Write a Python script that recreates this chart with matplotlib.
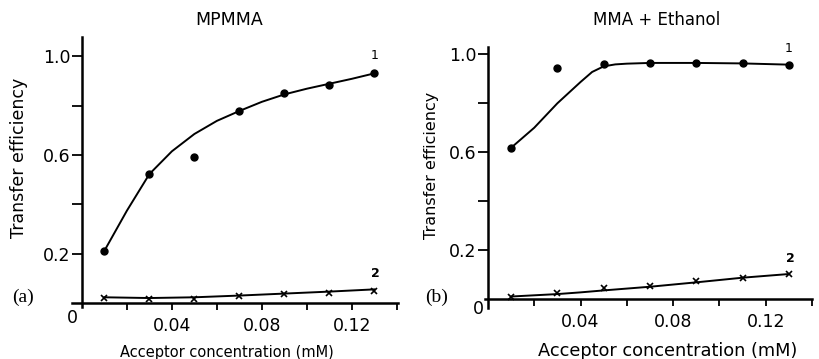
import matplotlib
matplotlib.use('Agg')
import matplotlib.pyplot as plt

# acceptor concentrations (mM)
conc = [0.01, 0.03, 0.05, 0.07, 0.09, 0.11, 0.13]

# (a) MPMMA
a_curve1 = [0.213, 0.523, 0.592, 0.778, 0.850, 0.883, 0.930]
a_curve2 = [0.021, 0.020, 0.020, 0.030, 0.037, 0.044, 0.050]
# drawn fit lines
a_fit1_x = [0.01, 0.02, 0.03, 0.04, 0.05, 0.06, 0.07, 0.08, 0.09, 0.10, 0.11, 0.12, 0.13]
a_fit1_y = [0.213, 0.375, 0.523, 0.615, 0.685, 0.738, 0.778, 0.815, 0.845, 0.868, 0.888, 0.908, 0.930]
a_fit2_x = [0.01, 0.03, 0.05, 0.07, 0.09, 0.11, 0.13]
a_fit2_y = [0.025, 0.022, 0.025, 0.032, 0.040, 0.048, 0.057]

# (b) MMA + Ethanol
b_curve1 = [0.618, 0.946, 0.962, 0.965, 0.965, 0.965, 0.958]
b_curve2 = [0.007, 0.023, 0.044, 0.053, 0.075, 0.087, 0.102]
b_fit1_x = [0.01, 0.02, 0.03, 0.04, 0.045, 0.05, 0.055, 0.06, 0.07, 0.09, 0.11, 0.13]
b_fit1_y = [0.618, 0.700, 0.800, 0.887, 0.928, 0.951, 0.959, 0.962, 0.965, 0.965, 0.963, 0.958]
b_fit2_x = [0.01, 0.03, 0.04, 0.05, 0.07, 0.09, 0.11, 0.13]
b_fit2_y = [0.010, 0.020, 0.027, 0.035, 0.050, 0.068, 0.087, 0.102]

yticks = [0.2, 0.4, 0.6, 0.8, 1.0]
ytick_labels = ['0.2', '', '0.6', '', '1.0']
xticks = [0.02, 0.04, 0.06, 0.08, 0.10, 0.12, 0.14]
xtick_labels = ['', '0.04', '', '0.08', '', '0.12', '']

fig = plt.figure(figsize=(8.2, 3.59), dpi=100)

panels = [
    dict(pos=[0.0878, 0.1457, 0.3976, 0.7513], xlim=(-0.0044, 0.1405), ylim=(-0.013, 1.077),
         title='MPMMA', title_xy=(0.280, 0.944), title_fs=12.5,
         xlab_xy=(0.277, 0.019), xlab_fs=10.5,
         ylab_xy=(0.023, 0.56), ylab_fs=12.5,
         tag='(a)', tag_xy=(-0.026, 0.026), zero_y=-0.059,
         lab1_y=1.004, lab2_y=0.123,
         c1=a_curve1, c2=a_curve2,
         f1=(a_fit1_x, a_fit1_y), f2=(a_fit2_x, a_fit2_y)),
    dict(pos=[0.5915, 0.142, 0.3988, 0.727], xlim=(-0.00125, 0.135), ylim=(-0.037, 1.03),
         title='MMA + Ethanol', title_xy=(0.801, 0.944), title_fs=12,
         xlab_xy=(0.814, 0.022), xlab_fs=12.8,
         ylab_xy=(0.526, 0.54), ylab_fs=11.5,
         tag='(b)', tag_xy=(-0.022, 0.008), zero_y=-0.04,
         lab1_y=1.024, lab2_y=0.167,
         c1=b_curve1, c2=b_curve2,
         f1=(b_fit1_x, b_fit1_y), f2=(b_fit2_x, b_fit2_y)),
]

for p in panels:
    ax = fig.add_axes(p['pos'])
    ax.plot(p['f1'][0], p['f1'][1], color='black', lw=1.4)
    ax.plot(p['f2'][0], p['f2'][1], color='black', lw=1.4)
    ax.plot(conc, p['c1'], 'o', color='black', ms=5)
    ax.plot(conc, p['c2'], 'x', color='black', ms=5, mew=1.2)

    ax.set_xlim(*p['xlim'])
    ax.set_ylim(*p['ylim'])
    ax.spines['left'].set_position(('data', 0))
    ax.spines['bottom'].set_position(('data', 0))
    ax.spines['top'].set_visible(False)
    ax.spines['right'].set_visible(False)
    ax.spines['left'].set_linewidth(1.8)
    ax.spines['bottom'].set_linewidth(1.8)

    ax.set_yticks(yticks)
    ax.set_yticklabels(ytick_labels, fontsize=12.5)
    ax.set_xticks(xticks)
    ax.set_xticklabels(xtick_labels, fontsize=12.5)
    ax.tick_params(axis='y', direction='out', length=7, width=1.3, pad=1)
    ax.tick_params(axis='x', direction='out', length=5, width=1.3, pad=5)

    fig.text(*p['title_xy'], p['title'], fontsize=p['title_fs'], ha='center', va='center')
    fig.text(*p['xlab_xy'], 'Acceptor concentration (mM)', fontsize=p['xlab_fs'],
             ha='center', va='center')
    fig.text(*p['ylab_xy'], 'Transfer efficiency', fontsize=p['ylab_fs'],
             ha='center', va='center', rotation=90)

    ax.text(-0.0042, p['zero_y'], '0', fontsize=12.5, ha='center', va='center')
    ax.text(0.13, p['lab1_y'], '1', fontsize=9, ha='center', va='center')
    ax.text(0.1305, p['lab2_y'], '2', fontsize=9, ha='center', va='center',
            fontweight='bold')
    ax.text(*p['tag_xy'], p['tag'], fontsize=14, family='Liberation Serif',
            ha='center', va='center')

fig.savefig('out.png', dpi=100)
